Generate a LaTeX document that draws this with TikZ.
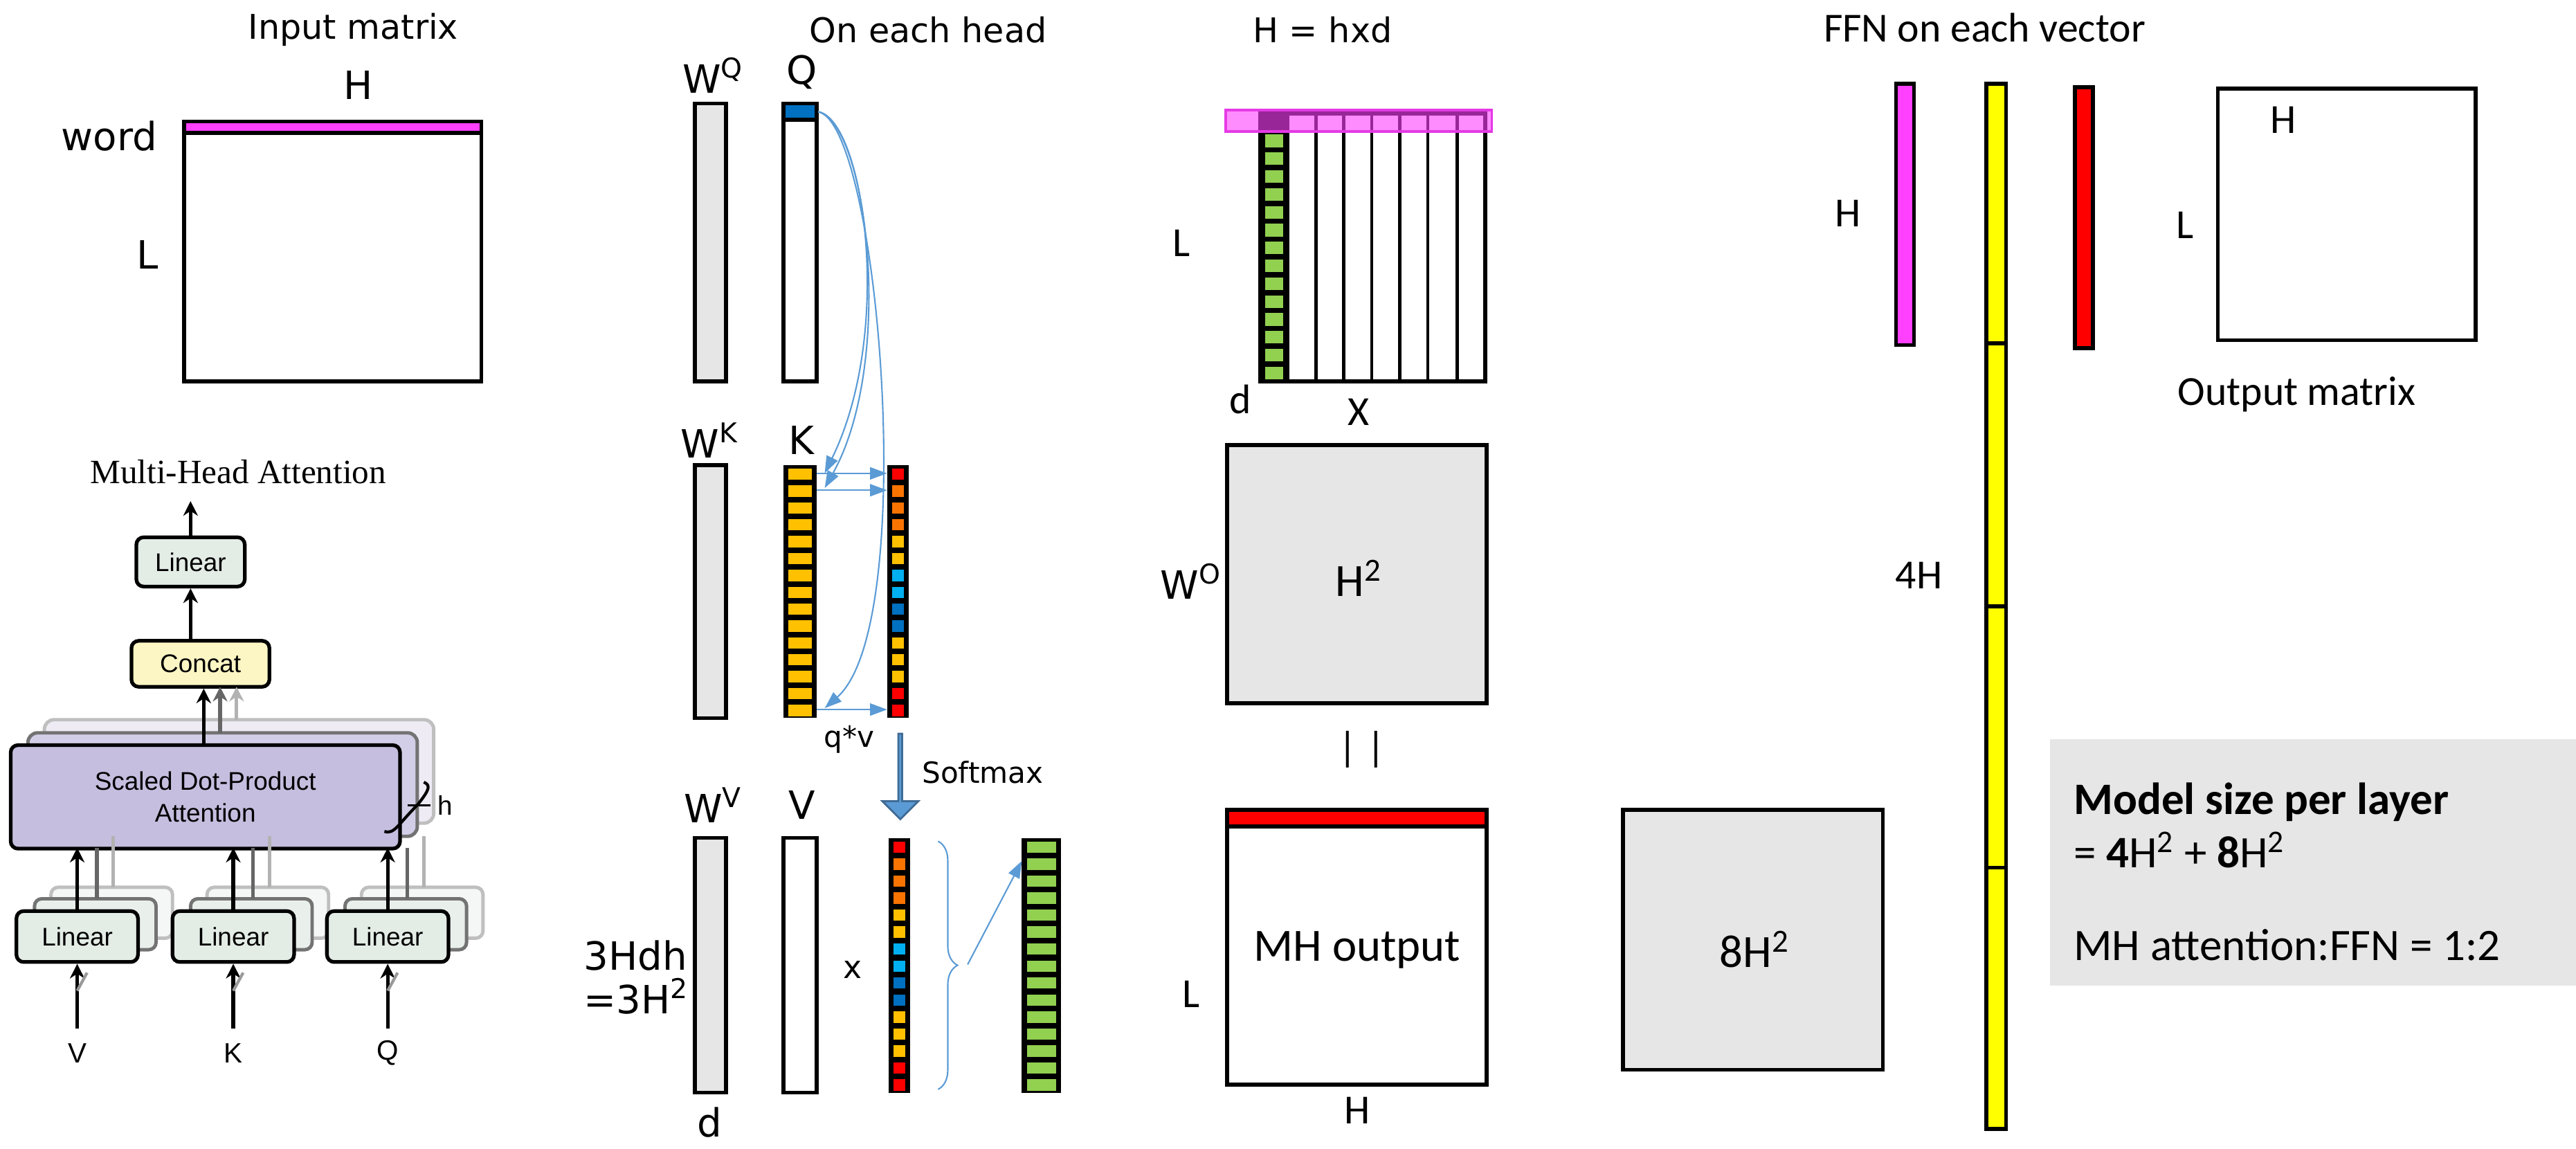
\documentclass[tikz,border=0pt]{standalone}
\usepackage{fontspec}
\setmainfont{DejaVu Sans}
\newfontfamily\calfnt{Carlito}
\newfontfamily\helfnt{Liberation Sans}
\newfontfamily\timfnt{Liberation Serif}
\usetikzlibrary{arrows.meta,fit,shapes.arrows,decorations.pathreplacing}
\definecolor{cgray}{HTML}{E6E6E6}
\definecolor{cmag}{HTML}{FF40FF}
\definecolor{cred}{HTML}{FF0000}
\definecolor{corg}{HTML}{F97300}
\definecolor{cyel}{HTML}{FFC000}
\definecolor{ccya}{HTML}{00B0F0}
\definecolor{cblu}{HTML}{0070C0}
\definecolor{cgrn}{HTML}{92D050}
\definecolor{carr}{HTML}{5B9BD5}
\definecolor{clin}{HTML}{E4ECE6}
\definecolor{ccon}{HTML}{FCF6C4}
\definecolor{csdp}{HTML}{C5BEDF}
\definecolor{cyl}{HTML}{FFFF00}
\newcommand\sq{\textsuperscript{2}}
\begin{document}
\begin{tikzpicture}[x=0.023737cm,y=-0.023737cm,
  mat/.style={draw=black,line width=1.6pt},
  lbl/.style={inner sep=0,font=\fontsize{16}{18}\selectfont},
  ttl/.style={inner sep=0,font=\fontsize{14}{16}\selectfont},
  cl/.style={inner sep=0,font=\calfnt\fontsize{17}{19}\selectfont},
  blarr/.style={draw=carr,line width=0.6pt,-{Triangle[length=7pt,width=5pt]}},
  tb/.style={draw=black,line width=1.5pt,rounded corners=3pt,minimum height=30*0.023737cm,inner sep=0,font=\helfnt\fontsize{10.5}{12}\selectfont},
  tarr/.style={line width=1.5pt,-{Stealth[length=6pt,width=6pt]}},
  fitn/.style={inner sep=0,draw=none}]
\useasboundingbox (0,0) rectangle (1568,699);

\node[ttl] (t1) at (215,18) {Input matrix};
\node[lbl] (iH) at (218,52) {H};
\node[lbl,anchor=east] (iw) at (96,83) {word};
\node[lbl] (iL) at (90,155) {L};
\draw[mat,fill=cmag] (112,74) rectangle (293,81);
\draw[mat] (112,81) rectangle (293,232);
\node[fitn,fit={(112,74)(293,232)}] (inmat) {};

\node[inner sep=0,font=\timfnt\fontsize{14}{16}\selectfont] (mht) at (145,287) {Multi-Head Attention};
\node[tb,fill=clin,minimum width=66*0.023737cm] (lin4) at (116,342) {Linear};
\node[tb,fill=ccon,minimum width=84*0.023737cm,minimum height=28*0.023737cm] (cat) at (122,404) {Concat};
\draw[line width=1.4pt,rounded corners=4pt,draw=black!25,fill=csdp!30] (27,438) rectangle (264,501);
\draw[line width=1.4pt,rounded corners=4pt,draw=black!55,fill=csdp!75] (17,446) rectangle (254,509);
\node[tb,fill=csdp,minimum width=237*0.023737cm,minimum height=63*0.023737cm,align=center,font=\helfnt\fontsize{10.5}{13}\selectfont] (sdp) at (125,485) {Scaled Dot-Product\\Attention};
\draw[line width=1.2pt] (234,506) .. controls (240,508) and (242,502) .. (254,490) .. controls (262,480) and (262,478) .. (258,476);
\draw[line width=0.8pt] (248,490) -- (262,490);
\node[inner sep=0,font=\helfnt\fontsize{11}{12}\selectfont] (hh) at (271,490) {h};
\foreach \xx/\nm/\lab in {47/lv/V,142/lk/K,236/lq/Q}{
  \draw[line width=1.4pt,rounded corners=3pt,draw=black!25,fill=clin!40] (\xx-37+21,555-15) rectangle (\xx+37+21,586-15);
  \draw[line width=1.4pt,rounded corners=3pt,draw=black!55,fill=clin!80] (\xx-37+11,555-8) rectangle (\xx+37+11,586-8);
  \node[tb,fill=clin,minimum width=74*0.023737cm,minimum height=31*0.023737cm] (\nm) at (\xx,570) {Linear};
  \node[inner sep=0,font=\helfnt\fontsize{11.5}{12}\selectfont] (\nm in) at (\xx,641) {\lab};
  \coordinate (\nm b) at (\xx,626);
  \draw[tarr] (\nm b) -- (\nm.south);
  \draw[line width=1.2pt,black!40] (\xx,603) -- (\xx+6,592);
  \draw[tarr] (\nm.north) -- (\xx,516);
  \draw[line width=1.5pt,black!60] (\xx+12,547) -- (\xx+12,516);
  \draw[line width=1.5pt,black!30] (\xx+22,540) -- (\xx+22,509);
}
\draw[tarr] (124,453) -- (cat.south -| 124,0);
\draw[line width=1.5pt,black!60,-{Stealth[length=6pt,width=6pt]}] (134,446) -- (134,418);
\draw[line width=1.5pt,black!30,-{Stealth[length=6pt,width=6pt]}] (144,438) -- (144,418);
\draw[tarr] (cat.north -| lin4) -- (lin4.south);
\coordinate (top4) at (116,305);
\draw[tarr] (lin4.north) -- (top4);

\node[ttl] (t2) at (565,18) {On each head};
\node[lbl] (lwq) at (434,46) {W\textsuperscript{Q}};
\node[lbl] (lq) at (488,44) {Q};
\node[lbl] (lwk) at (432,268) {W\textsuperscript{K}};
\node[lbl] (lk) at (488,268) {K};
\node[lbl] (lwv) at (434,490) {W\textsuperscript{V}};
\node[lbl] (lv) at (488,490) {V};
\draw[mat,fill=cgray] (423,63) rectangle (442,232);
\draw[mat,fill=cgray] (423,283) rectangle (442,437);
\draw[mat,fill=cgray] (423,510) rectangle (442,665);
\node[fitn,fit={(423,63)(442,232)}] (WQ) {};
\node[fitn,fit={(423,283)(442,437)}] (WK) {};
\node[fitn,fit={(423,510)(442,665)}] (WV) {};
\draw[mat] (477,63) rectangle (497,232);
\draw[mat,fill=cblu] (477,63) rectangle (497,73);
\node[fitn,fit={(477,63)(497,73)}] (qcell) {};
\node[fitn,fit={(477,63)(497,232)}] (Q) {};
\draw[mat] (477,510) rectangle (497,665);
\node[fitn,fit={(477,510)(497,665)}] (V) {};
\fill (477,283) rectangle (497,437);
\foreach \i in {0,...,14}{
  \fill[cyel] (480,283+\i*10.267+2.2) rectangle (494,283+\i*10.267+10.267-1.2);
  \coordinate (k\i) at (497,283+\i*10.267+5.1);
}
\node[fitn,fit={(477,283)(497,437)}] (K) {};
\fill (540,283) rectangle (553,437);
\foreach \c [count=\j from 0] in {cred,corg,corg,corg,cyel,cyel,ccya,ccya,cblu,cblu,cyel,cyel,cyel,cred,cred}{
  \fill[\c] (543,283+\j*10.267+2.2) rectangle (550,283+\j*10.267+10.267-1.2);
  \coordinate (s\j) at (540,283+\j*10.267+5.1);
}
\node[fitn,fit={(540,283)(553,437)}] (QV) {};
\fill (541,510) rectangle (554,665);
\foreach \c [count=\j from 0] in {cred,corg,corg,corg,cyel,cyel,ccya,ccya,cblu,cblu,cyel,cyel,cyel,cred,cred}{
  \fill[\c] (544,510+\j*10.33+2.2) rectangle (551,510+\j*10.33+10.33-1.2);
}
\node[fitn,fit={(541,510)(554,665)}] (SM) {};
\fill (622,510) rectangle (646,665);
\foreach \j in {0,...,14}{
  \fill[cgrn] (625,510+\j*10.33+2.2) rectangle (643,510+\j*10.33+10.33-1.2);
}
\node[fitn,fit={(622,510)(646,665)}] (G) {};
\coordinate (qs) at (498,68);
\draw[blarr] (qs) .. controls (525,72) and (545,200) .. (502,288);
\draw[blarr] (qs) .. controls (528,75) and (545,220) .. (502,297);
\draw[blarr] (qs) .. controls (535,75) and (560,380) .. (502,431);
\draw[blarr] (k0) -- (s0);
\draw[blarr] (k1) -- (s1);
\draw[blarr] (k14) -- (s14);
\node[lbl,font=\fontsize{12}{14}\selectfont] (qv) at (517,450) {q*v};
\node[single arrow,draw=carr!70!black,fill=carr,line width=0.8pt,minimum width=22*0.023737cm,single arrow head extend=5*0.023737cm,single arrow tip angle=90,minimum height=52*0.023737cm,inner sep=0,shape border rotate=270] (smarr) at (548,472) {};
\node[lbl,font=\fontsize{12}{14}\selectfont,anchor=west] (smt) at (561,470) {Softmax};
\node[lbl,font=\fontsize{13}{15}\selectfont] (xx) at (519,590) {x};
\node[lbl,align=left,anchor=west] (hdh) at (355,595) {3Hdh\\=3H\sq};
\node[lbl] (ld) at (432,683) {d};
\draw[draw=carr,line width=0.6pt,decorate,decoration={brace,amplitude=8pt}] (571,512) -- (571,663);
\coordinate (brt) at (589,587);
\coordinate (gt) at (622,524);
\draw[blarr] (brt) -- (gt);

\node[ttl] (t3) at (805,18) {H = hxd};
\draw[mat] (767,69) rectangle (904,232);
\foreach \xx in {784,801,818,835,852,869,887}{\draw[line width=1.3pt] (\xx,69) -- (\xx,232);}
\fill (767,69) rectangle (784,232);
\foreach \j in {1,...,14}{
  \fill[cgrn] (770,69+\j*10.87+2) rectangle (781,69+\j*10.87+10.87-1.2);
}
\fill[cmag,fill opacity=0.6] (746,67) rectangle (908,80);
\draw[cmag!90!black,line width=1pt] (746,67) rectangle (908,80);
\node[fitn,fit={(767,69)(904,232)}] (HM) {};
\node[cl] (hL) at (719,148) {L};
\node[cl] (hd) at (755,243) {d};
\node[cl] (hx) at (827,251) {X};
\draw[mat,fill=cgray] (747,271) rectangle (905,428);
\node[fitn,fit={(747,271)(905,428)}] (WO) {};
\node[lbl] (wol) at (725,354) {W\textsuperscript{O}};
\node[cl,font=\calfnt\fontsize{19}{21}\selectfont] (h2) at (827,352) {H\sq};
\node[cl] (eq) at (829,456) {| |};
\draw[mat,fill=cred] (747,493) rectangle (905,503);
\draw[mat] (747,503) rectangle (905,660);
\node[fitn,fit={(747,493)(905,660)}] (MH) {};
\node[cl,font=\calfnt\fontsize{19}{21}\selectfont] (mhl) at (826,578) {MH output};
\node[cl] (mL) at (725,605) {L};
\node[cl] (mH) at (826,676) {H};
\draw[mat,fill=cgray] (988,493) rectangle (1146,651);
\node[fitn,fit={(988,493)(1146,651)}] (B8) {};
\node[cl,font=\calfnt\fontsize{19}{21}\selectfont] (h8) at (1068,578) {8H\sq};

\node[cl] (t4) at (1208,17) {FFN on each vector};
\draw[mat,fill=cmag] (1154,51) rectangle (1165,210);
\node[fitn,fit={(1154,51)(1165,210)}] (fm) {};
\node[cl] (fH) at (1125,130) {H};
\draw[mat,fill=cyl] (1209,51) rectangle (1221,687);
\foreach \yy in {209,369,528}{\draw[line width=1.6pt] (1209,\yy) -- (1221,\yy);}
\node[fitn,fit={(1209,51)(1221,687)}] (fy) {};
\node[cl] (f4) at (1168,350) {4H};
\draw[mat,fill=cred] (1263,53) rectangle (1274,212);
\node[fitn,fit={(1263,53)(1274,212)}] (fr) {};
\draw[mat] (1350,54) rectangle (1507,207);
\node[fitn,fit={(1350,54)(1507,207)}] (OM) {};
\node[cl] (oH) at (1390,73) {H};
\node[cl] (oL) at (1330,137) {L};
\node[cl] (oml) at (1398,240) {Output matrix};
\fill[cgray] (1248,450) rectangle (1568,600);
\node[inner sep=0,anchor=north west,align=left,font=\calfnt\fontsize{18.5}{22}\selectfont] (ms) at (1262,476)
  {\textbf{Model size per layer}\\= \textbf{4}H\sq{} + \textbf{8}H\sq\\[16pt]MH attention:FFN = 1:2};
\end{tikzpicture}
\end{document}
